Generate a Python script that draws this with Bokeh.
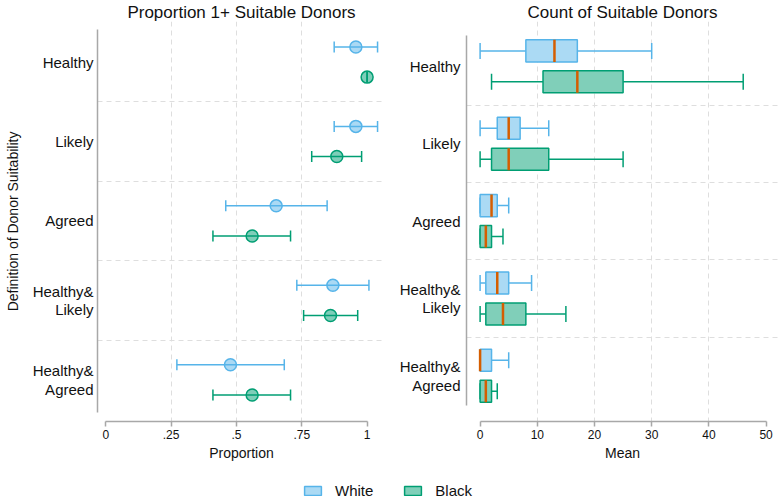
from bokeh.plotting import figure
from bokeh.layouts import column, row
from bokeh.models import (ColumnDataSource, Range1d, FixedTicker, Whisker, TeeHead,
                          Legend, LegendItem)
from bokeh.embed import file_html
from bokeh.resources import INLINE

# ---------------- data ----------------
categories = ["Healthy", "Likely", "Agreed", "Healthy&\nLikely", "Healthy&\nAgreed"]
groups = ["White", "Black"]

# Proportion with 1+ suitable donors (point estimate and CI)
prop_white = [0.957, 0.957, 0.652, 0.869, 0.477]
prop_white_lo = [0.874, 0.874, 0.459, 0.731, 0.272]
prop_white_hi = [1.040, 1.040, 0.847, 1.007, 0.683]
prop_black = [1.000, 0.884, 0.560, 0.860, 0.560]
prop_black_lo = [1.000, 0.788, 0.410, 0.757, 0.410]
prop_black_hi = [1.000, 0.979, 0.707, 0.964, 0.707]

# Count of suitable donors (box plot stats)
cnt_white_lo = [0, 0, 0, 0, 0]
cnt_white_q1 = [8, 3, 0, 1, 0]
cnt_white_med = [13, 5, 2, 3, 0]
cnt_white_q3 = [17, 7, 3, 5, 2]
cnt_white_hi = [30, 12, 5, 9, 5]
cnt_black_lo = [2, 0, 0, 0, 0]
cnt_black_q1 = [11, 2, 0, 1, 0]
cnt_black_med = [17, 5, 1, 4, 1]
cnt_black_q3 = [25, 12, 2, 8, 2]
cnt_black_hi = [46, 25, 4, 15, 3]

prop_ticks = [0, 0.25, 0.5, 0.75, 1]
prop_tick_labels = ["0", ".25", ".5", ".75", "1"]
count_ticks = [0, 10, 20, 30, 40, 50]

# ---------------- style ----------------
FONT = "Liberation Sans"
WHITE_LINE = "#56B4E9"
WHITE_FILL = "#abdaf4"
BLACK_LINE = "#009E73"
BLACK_FILL = "#80cfb9"
MED = "#D55E00"
AXIS = "#a8a8a8"
GRID = "#dedede"
TXT = "#111111"

idx = list(range(len(categories)))
OFF_L = 0.19
OFF_R = 0.20
BOX_H = 0.285
NBSP = "\u00a0"


def pad_label(c, n_pad):
    # multi-line labels are centre-justified: pad the 2nd line so it sits right-aligned
    if "\n" not in c:
        return c
    a, b = c.split("\n")
    return a + "\n" + NBSP * n_pad + b


left_labels = [pad_label(c, n) for c, n in zip(categories, [0, 0, 0, 3, 1])]
right_labels = [pad_label(c, n) for c, n in zip(categories, [0, 0, 0, 5, 3])]


def style(p, ylabels, xticks, xlabels, xgrid_ticks, xbounds, ybounds, xlabel):
    p.outline_line_color = None
    p.background_fill_color = "white"
    p.border_fill_color = "white"
    p.title.text_font = FONT
    p.title.text_font_size = "17px"
    p.title.text_font_style = "normal"
    p.title.text_color = TXT
    p.title.align = "center"
    p.title.standoff = 0
    p.title.offset = 0

    p.yaxis.ticker = FixedTicker(ticks=idx)
    p.yaxis.major_label_overrides = {i: c for i, c in enumerate(ylabels)}
    p.yaxis.major_tick_out = 0
    p.yaxis.major_tick_in = 0
    p.yaxis.minor_tick_out = 0
    p.yaxis.minor_tick_in = 0
    p.yaxis.bounds = ybounds
    p.yaxis.axis_line_color = AXIS
    p.yaxis.axis_line_width = 1.5
    p.yaxis.major_label_text_font = FONT
    p.yaxis.major_label_text_font_size = "15px"
    p.yaxis.major_label_text_line_height = 1.1
    p.yaxis.major_label_text_color = TXT
    p.yaxis.major_label_standoff = 4

    p.xaxis.ticker = FixedTicker(ticks=xticks)
    p.xaxis.major_label_overrides = {t: l for t, l in zip(xticks, xlabels)}
    p.xaxis.bounds = xbounds
    p.xaxis.axis_line_color = AXIS
    p.xaxis.axis_line_width = 1.5
    p.xaxis.major_tick_line_color = AXIS
    p.xaxis.major_tick_line_width = 1.5
    p.xaxis.major_tick_out = 5
    p.xaxis.major_tick_in = 0
    p.xaxis.minor_tick_out = 0
    p.xaxis.minor_tick_in = 0
    p.xaxis.major_label_text_font = FONT
    p.xaxis.major_label_text_font_size = "12px"
    p.xaxis.major_label_text_color = TXT
    p.xaxis.major_label_standoff = 3
    p.xaxis.axis_label = xlabel
    p.xaxis.axis_label_text_font = FONT
    p.xaxis.axis_label_text_font_size = "14px"
    p.xaxis.axis_label_text_font_style = "normal"
    p.xaxis.axis_label_text_color = TXT
    p.xaxis.axis_label_standoff = 3

    p.xgrid.ticker = FixedTicker(ticks=xgrid_ticks)
    p.ygrid.ticker = FixedTicker(ticks=[i + 0.5 for i in idx[:-1]])
    for g in (p.xgrid, p.ygrid):
        g.grid_line_color = GRID
        g.grid_line_dash = "5 4"
        g.grid_line_width = 1


# ---------------- left panel: proportions ----------------
left = figure(width=390, height=463, output_backend="svg", toolbar_location=None,
              x_range=Range1d(-0.0318, 1.0704), y_range=Range1d(4.524, -0.510),
              min_border_left=97, min_border_right=5, min_border_top=0,
              min_border_bottom=42, title="Proportion 1+ Suitable Donors")
style(left, left_labels, prop_ticks, prop_tick_labels, [0.25, 0.5, 0.75], (0, 1),
      (-0.41, 4.414), "Proportion")
left.yaxis.axis_label = "Definition of Donor Suitability"
left.yaxis.axis_label_text_font = FONT
left.yaxis.axis_label_text_font_size = "14px"
left.yaxis.axis_label_text_font_style = "normal"
left.yaxis.axis_label_text_color = TXT
left.yaxis.axis_label_standoff = 9

for vals, lo, hi, sign, lc in ((prop_white, prop_white_lo, prop_white_hi, -1, WHITE_LINE),
                               (prop_black, prop_black_lo, prop_black_hi, 1, BLACK_LINE)):
    src = ColumnDataSource(dict(y=[i + sign * OFF_L for i in idx], x=vals, lo=lo, hi=hi))
    left.add_layout(Whisker(base="y", lower="lo", upper="hi", dimension="width", source=src,
                            line_color=lc, line_width=1.5,
                            upper_head=TeeHead(size=11, line_color=lc, line_width=1.5),
                            lower_head=TeeHead(size=11, line_color=lc, line_width=1.5)))
    left.scatter("x", "y", source=src, size=12, fill_color=lc, fill_alpha=0.5,
                 line_color=lc, line_width=1.5)

# ---------------- right panel: counts ----------------
right = figure(width=390, height=463, output_backend="svg", toolbar_location=None,
               x_range=Range1d(-2.378, 52.17), y_range=Range1d(4.591, -0.580),
               min_border_left=76, min_border_right=2, min_border_top=0,
               min_border_bottom=42, title="Count of Suitable Donors")
style(right, right_labels, count_ticks, [str(t) for t in count_ticks], [10, 20, 30, 40],
      (0, 50), (-0.398, 4.388), "Mean")
right.yaxis.major_label_standoff = 6

for name, lo, q1, med, q3, hi, sign, lc, fc in (
        ("White", cnt_white_lo, cnt_white_q1, cnt_white_med, cnt_white_q3, cnt_white_hi,
         -1, WHITE_LINE, WHITE_FILL),
        ("Black", cnt_black_lo, cnt_black_q1, cnt_black_med, cnt_black_q3, cnt_black_hi,
         1, BLACK_LINE, BLACK_FILL)):
    ys = [i + sign * OFF_R for i in idx]
    src = ColumnDataSource(dict(y=ys, lo=lo, q1=q1, med=med, q3=q3, hi=hi,
                                y0=[y - BOX_H / 2 for y in ys], y1=[y + BOX_H / 2 for y in ys]))
    right.add_layout(Whisker(base="y", lower="lo", upper="q1", dimension="width", source=src,
                             line_color=lc, line_width=1.5, upper_head=None,
                             lower_head=TeeHead(size=16, line_color=lc, line_width=1.5)))
    right.add_layout(Whisker(base="y", lower="q3", upper="hi", dimension="width", source=src,
                             line_color=lc, line_width=1.5, lower_head=None,
                             upper_head=TeeHead(size=16, line_color=lc, line_width=1.5)))
    right.hbar(y="y", left="q1", right="q3", height=BOX_H, source=src,
               fill_color=fc, line_color=lc, line_width=1.5)
    right.segment(x0="med", x1="med", y0="y0", y1="y1", source=src,
                  line_color=MED, line_width=2.5)

# ---------------- legend strip ----------------
leg = figure(width=780, height=36, output_backend="svg", toolbar_location=None,
             x_range=Range1d(0, 1), y_range=Range1d(0, 1),
             min_border_left=0, min_border_right=0, min_border_top=0, min_border_bottom=0)
leg.axis.visible = False
leg.grid.visible = False
leg.outline_line_color = None
nan = float("nan")
items = []
for name, lc, fc in zip(groups, (WHITE_LINE, BLACK_LINE), (WHITE_FILL, BLACK_FILL)):
    r = leg.quad(left=[nan], right=[nan], top=[nan], bottom=[nan], fill_color=fc,
                 line_color=lc, line_width=1.5)
    items.append(LegendItem(label=name, renderers=[r]))
legend = Legend(items=items, orientation="horizontal", location=(302, 0),
                glyph_width=21, glyph_height=11, label_standoff=12, spacing=29,
                padding=0, margin=0, border_line_color=None, background_fill_alpha=0,
                label_text_font=FONT, label_text_font_size="15px",
                label_text_color=TXT, label_height=14)
leg.add_layout(legend)

layout = column(row(left, right), leg)
open("out.html", "w").write(file_html(layout, INLINE))
